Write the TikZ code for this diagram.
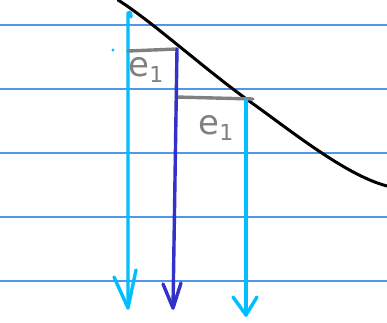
\documentclass[tikz,border=0pt]{standalone}
\usepackage{fontspec}
\setsansfont{DejaVu Sans}
\definecolor{rulec}{RGB}{80,150,235}
\definecolor{cyanc}{RGB}{0,190,255}
\definecolor{darkb}{RGB}{50,50,200}
\definecolor{grayc}{RGB}{128,128,128}
\begin{document}
\begin{tikzpicture}[x=1pt,y=-1pt,
  ruled/.style={draw=rulec,line width=1.3pt},
  curveline/.style={draw=black,line width=3pt,line cap=round},
  cyanline/.style={draw=cyanc,line width=3.4pt,line cap=round,line join=round},
  darkline/.style={draw=darkb,line width=3.4pt,line cap=round,line join=round},
  grayline/.style={draw=grayc,line width=3.4pt,line cap=round},
  elabel/.style={text=grayc,font=\sffamily\fontsize{34}{34}\selectfont,inner sep=0pt}]
\useasboundingbox (0,0) rectangle (387,322);
\fill[white] (0,0) rectangle (387,322);
% ruled lines
\foreach \yy in {25,89,153,217,281} \draw[ruled] (0,\yy) -- (387,\yy);
% curve
\draw[curveline] (118,0) .. controls (150,20) and (200,65) .. (245,98)
  .. controls (290,130) and (345,175) .. (387,186);
% coordinates
\coordinate (a1top) at (128,13);
\coordinate (a1bot) at (128,308);
\coordinate (a1l) at (114,277);
\coordinate (a1r) at (136,270);
\coordinate (g1l) at (128,51);
\coordinate (g1r) at (177,49);
\coordinate (a2bot) at (173,308);
\coordinate (a2l) at (163,284);
\coordinate (a2r) at (181,283);
\coordinate (g2l) at (176,97);
\coordinate (g2r) at (253,99);
\coordinate (a3top) at (246,100);
\coordinate (a3bot) at (246,315);
\coordinate (a3l) at (233,297);
\coordinate (a3r) at (257,297);
\coordinate (dot) at (113,50);
% cyan arrow 1
\draw[cyanline] (a1bot) -- (a1top) .. controls (129,11) and (131,12) .. (131,17);
\draw[cyanline] (a1l) -- (a1bot) -- (a1r);
\fill[cyanc] (dot) circle (1.6);
% gray segments
\draw[grayline] (g1l) -- (g1r);
\draw[grayline] (g2l) -- (g2r);
% dark blue arrow
\draw[darkline] (g1r) -- (a2bot);
\draw[darkline] (a2l) -- (a2bot) -- (a2r);
% cyan arrow 2
\draw[cyanline] (a3top) -- (a3bot);
\draw[cyanline] (a3l) -- (a3bot) -- (a3r);
% labels
\node[elabel] (e1a) at (146,70) {e\raisebox{-6pt}{\fontsize{22}{22}\selectfont 1}};
\node[elabel] (e1b) at (216,128) {e\raisebox{-6pt}{\fontsize{22}{22}\selectfont 1}};
\end{tikzpicture}
\end{document}
